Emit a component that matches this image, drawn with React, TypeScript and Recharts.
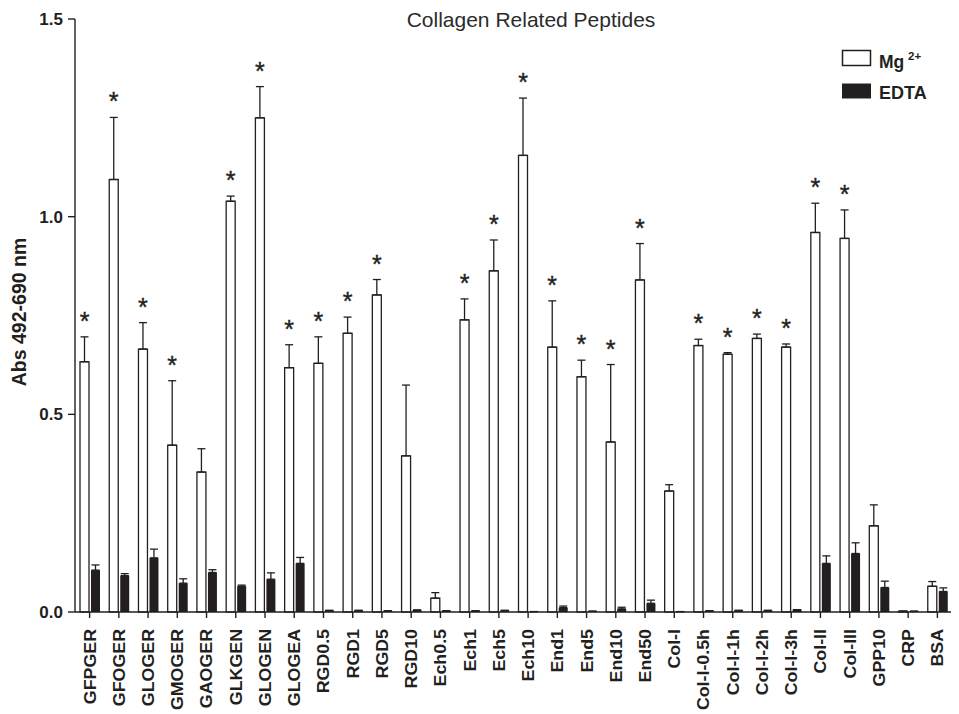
import { BarChart, Bar, XAxis, YAxis, ErrorBar } from "recharts"

const categories = [
  "GFPGER", "GFOGER", "GLOGER", "GMOGER", "GAOGER", "GLKGEN", "GLOGEN", "GLOGEA",
  "RGD0.5", "RGD1", "RGD5", "RGD10", "Ech0.5", "Ech1", "Ech5", "Ech10",
  "End1", "End5", "End10", "End50", "Col-I", "Col-I-0.5h", "Col-I-1h", "Col-I-2h",
  "Col-I-3h", "Col-II", "Col-III", "GPP10", "CRP", "BSA",
]

const mgValues = [
  0.633, 1.094, 0.665, 0.422, 0.354, 1.039, 1.25, 0.618,
  0.629, 0.705, 0.802, 0.395, 0.035, 0.739, 0.863, 1.155,
  0.67, 0.595, 0.43, 0.84, 0.306, 0.674, 0.652, 0.692,
  0.67, 0.96, 0.945, 0.218, 0.002, 0.065,
]

const mgErrors = [
  0.063, 0.157, 0.067, 0.163, 0.059, 0.013, 0.079, 0.058,
  0.067, 0.041, 0.039, 0.179, 0.014, 0.053, 0.078, 0.145,
  0.117, 0.042, 0.196, 0.092, 0.016, 0.016, 0.004, 0.011,
  0.008, 0.074, 0.072, 0.053, 0, 0.012,
]

const edtaValues = [
  0.106, 0.092, 0.137, 0.073, 0.1, 0.065, 0.083, 0.123,
  0.004, 0.004, 0.003, 0.005, 0.003, 0.003, 0.004, 0.001,
  0.011, 0.002, 0.008, 0.022, 0.001, 0.003, 0.004, 0.004,
  0.006, 0.123, 0.148, 0.062, 0.002, 0.052,
]

const edtaErrors = [
  0.013, 0.005, 0.022, 0.011, 0.007, 0.003, 0.016, 0.015,
  0, 0, 0, 0, 0, 0, 0, 0,
  0.004, 0, 0.004, 0.008, 0, 0, 0, 0,
  0, 0.019, 0.027, 0.016, 0, 0.009,
]

// significance marks (*) above the Mg2+ bars
const significant = [
  true, true, true, true, false, true, true, true,
  true, true, true, false, false, true, true, true,
  true, true, true, true, false, true, true, true,
  true, true, true, false, false, false,
]

const yTicks = [0, 0.5, 1.0, 1.5]

const INK = "#231f20"
const FONT = "'Liberation Sans', Arial, Helvetica, sans-serif"

const data = categories.map((name, i) => ({
  name,
  mg: mgValues[i],
  mgErr: [0, mgErrors[i]],
  edta: edtaValues[i],
  edtaErr: [0, edtaErrors[i]],
  sig: significant[i],
}))

function MgBar(props: any) {
  const { x, y, width, height, payload } = props
  const unit = payload.mg > 0 ? height / payload.mg : 0
  const errTop = y - payload.mgErr[1] * unit
  return (
    <g>
      <rect
        x={x}
        y={y}
        width={width}
        height={height}
        fill="#ffffff"
        stroke={INK}
        strokeWidth={1.3}
      />
      {payload.sig && (
        <text
          x={x + width / 2}
          y={errTop - 7}
          textAnchor="middle"
          fontSize={25}
          fontFamily={FONT}
          fill={INK}
          stroke={INK}
          strokeWidth={0.4}
        >
          *
        </text>
      )}
    </g>
  )
}

function CategoryTick(props: any) {
  const { x, y, payload } = props
  return (
    <text
      transform={`translate(${x},${y + 11}) rotate(-90) scale(1.08,1)`}
      textAnchor="end"
      dy="0.36em"
      fontSize={16.5}
      fontWeight="bold"
      fontFamily={FONT}
      fill={INK}
    >
      {payload.value}
    </text>
  )
}

export default function App() {
  return (
    <div style={{ position: "relative", width: 951, height: 706 }}>
      <BarChart
        width={951}
        height={706}
        data={data}
        margin={{ top: 11, right: 1, left: 0, bottom: 0 }}
        barCategoryGap={5}
        barGap={2}
      >
        <XAxis
          dataKey="name"
          interval={0}
          height={102}
          tickSize={6}
          tickMargin={0}
          padding={{ left: 0, right: 6 }}
          stroke={INK}
          strokeWidth={1.4}
          tick={<CategoryTick />}
        />
        <YAxis
          domain={[0, 1.5]}
          ticks={yTicks}
          width={67}
          tickSize={7}
          tickMargin={5}
          stroke={INK}
          strokeWidth={1.4}
          tickFormatter={(v: number) => v.toFixed(1)}
          tick={{ fill: INK, fontSize: 17, fontWeight: "bold", fontFamily: FONT }}
        />
        <Bar dataKey="mg" shape={<MgBar />} isAnimationActive={false}>
          <ErrorBar dataKey="mgErr" width={4} stroke={INK} strokeWidth={1.3} />
        </Bar>
        <Bar dataKey="edta" fill={INK} isAnimationActive={false}>
          <ErrorBar dataKey="edtaErr" width={4} stroke={INK} strokeWidth={1.3} />
        </Bar>
      </BarChart>
      <svg
        width={951}
        height={706}
        style={{ position: "absolute", left: 0, top: 0, pointerEvents: "none" }}
        fontFamily={FONT}
      >
        <text x={523} y={19} textAnchor="middle" fontSize={21} fill="#2b2b2b">
          Collagen Related Peptides
        </text>
        <text
          x={18}
          y={304}
          transform="rotate(-90 18 304)"
          textAnchor="middle"
          fontSize={19.5}
          fontWeight="bold"
          fill={INK}
        >
          Abs 492-690 nm
        </text>
        <rect x={834.5} y={42.5} width={28} height={15} fill="#ffffff" stroke={INK} strokeWidth={1.5} />
        <text x={871} y={60} fontSize={17.5} fontWeight="bold" fill={INK}>
          Mg
          <tspan x={900} y={51.5} fontSize={11.5}>2+</tspan>
        </text>
        <rect x={834} y={75.5} width={29} height={15} fill={INK} />
        <text x={871} y={91} fontSize={18} fontWeight="bold" fill={INK}>
          EDTA
        </text>
      </svg>
    </div>
  )
}
